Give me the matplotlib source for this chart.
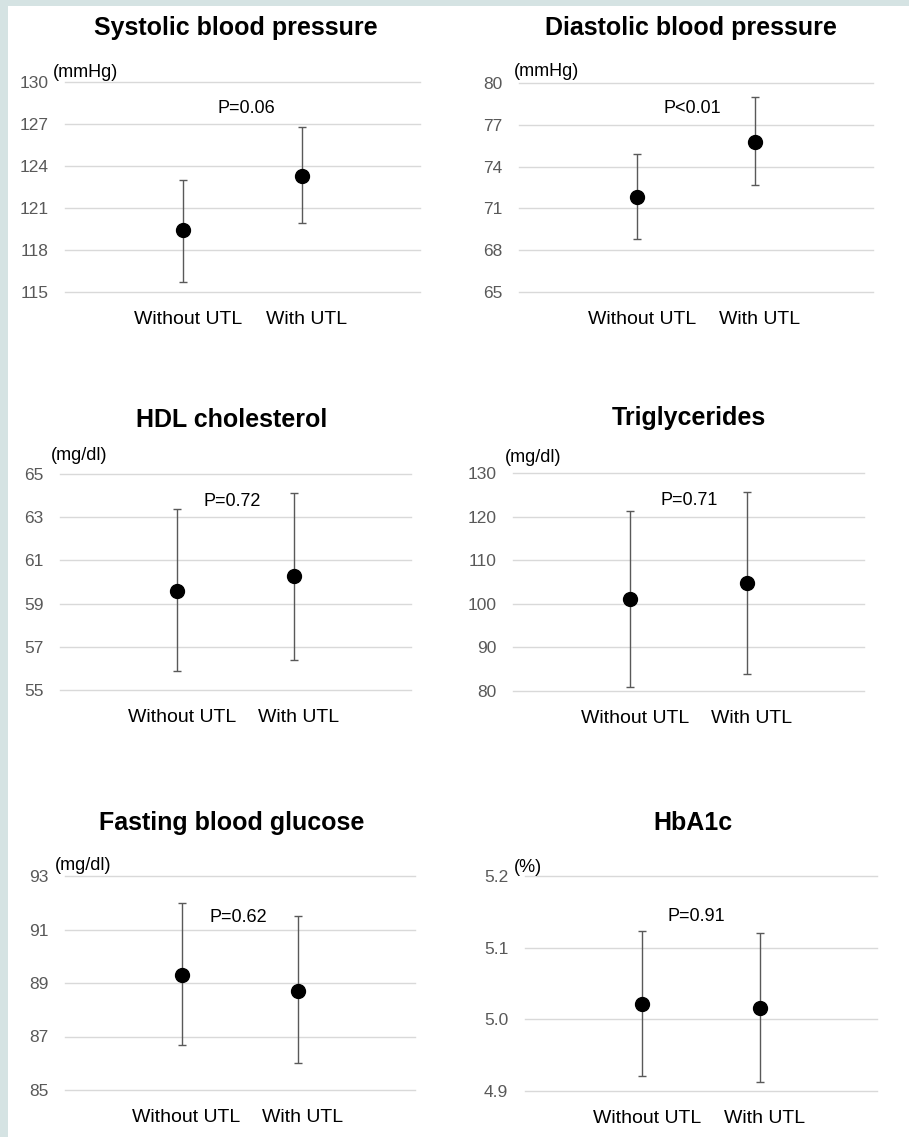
import matplotlib.pyplot as plt
from matplotlib.patches import Rectangle
from matplotlib.ticker import FormatStrFormatter
import numpy as np

plt.rcParams['font.family'] = ['Liberation Sans', 'DejaVu Sans']

groups = ["Without UTL", "With UTL"]

titles = ["Systolic blood pressure", "Diastolic blood pressure",
          "HDL cholesterol", "Triglycerides",
          "Fasting blood glucose", "HbA1c"]
units = ["(mmHg)", "(mmHg)", "(mg/dl)", "(mg/dl)", "(mg/dl)", "(%)"]
p_values = ["P=0.06", "P<0.01", "P=0.72", "P=0.71", "P=0.62", "P=0.91"]

# mean, lower and upper limit of error bar, per group
sbp_mean = [119.4, 123.3]
sbp_low = [115.7, 119.9]
sbp_high = [123.0, 126.8]

dbp_mean = [71.8, 75.8]
dbp_low = [68.8, 72.7]
dbp_high = [74.9, 79.0]

hdl_mean = [59.6, 60.3]
hdl_low = [55.9, 56.4]
hdl_high = [63.4, 64.1]

tg_mean = [101.0, 104.7]
tg_low = [81.0, 83.8]
tg_high = [121.3, 125.6]

fbg_mean = [89.3, 88.7]
fbg_low = [86.7, 86.0]
fbg_high = [92.0, 91.5]

hba1c_mean = [5.022, 5.016]
hba1c_low = [4.921, 4.912]
hba1c_high = [5.123, 5.121]

y_ticks = [np.arange(115, 131, 3), np.arange(65, 81, 3),
           np.arange(55, 66, 2), np.arange(80, 131, 10),
           np.arange(85, 94, 2), [4.9, 5.0, 5.1, 5.2]]

series = [(sbp_mean, sbp_low, sbp_high), (dbp_mean, dbp_low, dbp_high),
          (hdl_mean, hdl_low, hdl_high), (tg_mean, tg_low, tg_high),
          (fbg_mean, fbg_low, fbg_high), (hba1c_mean, hba1c_low, hba1c_high)]

# layout in pixels: axes box (x0, y0, x1, y1), title centre, unit offset, p text pos
W, H = 909, 1137
boxes = [(65, 82, 420, 292), (519, 83, 873, 292),
         (60, 474, 411, 690), (513, 473, 864, 691),
         (65, 876, 415, 1090), (525, 876, 877, 1091)]
title_pos = [(236, 28), (691, 28), (232, 420), (689, 418), (232, 823), (693, 823)]
unit_off = [(-12, 10), (-5, 11), (-9, 18), (-8, 15), (-10, 10), (-11, 9)]
p_pos = [(0.51, 0.876), (0.489, 0.88), (0.49, 0.872),
         (0.501, 0.872), (0.494, 0.805), (0.486, 0.81)]

fig = plt.figure(figsize=(W / 100, H / 100), dpi=100)
fig.patch.set_facecolor("white")
border = "#d5e3e3"
fig.patches.append(Rectangle((0, 0), 8 / W, 1, transform=fig.transFigure,
                             facecolor=border, edgecolor="none"))
fig.patches.append(Rectangle((0, 1 - 6 / H), 1, 6 / H, transform=fig.transFigure,
                             facecolor=border, edgecolor="none"))

x = np.arange(len(groups))
for i in range(6):
    x0, y0, x1, y1 = boxes[i]
    ax = fig.add_axes([x0 / W, 1 - y1 / H, (x1 - x0) / W, (y1 - y0) / H])
    ax.set_facecolor("none")
    mean, low, high = series[i]
    mean = np.array(mean)
    err = [mean - np.array(low), np.array(high) - mean]
    ax.errorbar(x, mean, yerr=err, fmt="o", color="black", markersize=10,
                ecolor="#595959", elinewidth=1, capsize=3, capthick=1, zorder=3)

    ticks = y_ticks[i]
    ax.set_ylim(ticks[0], ticks[-1])
    ax.set_yticks(ticks)
    if i == 5:
        ax.yaxis.set_major_formatter(FormatStrFormatter("%.1f"))
    ax.set_xlim(-1, 2)
    # labels sit a little right of the markers, as in the original
    ax.set_xticks(x + 0.04)
    ax.set_xticklabels(groups, fontsize=14, color="black")
    ax.tick_params(axis="x", length=0, pad=14)
    ax.tick_params(axis="y", length=0, pad=12, labelsize=12.5, labelcolor="#595959")
    ax.grid(axis="y", color="#d9d9d9", linewidth=1)
    for gl in ax.get_ygridlines():
        gl.set_clip_on(False)
    ax.set_axisbelow(True)
    for s in ax.spines.values():
        s.set_visible(False)

    ax.annotate(units[i], xy=(0, 1), xycoords="axes fraction",
                xytext=(unit_off[i][0] * 0.72, unit_off[i][1] * 0.72),
                textcoords="offset points", ha="left", va="center", fontsize=13)
    ax.text(p_pos[i][0], p_pos[i][1], p_values[i], transform=ax.transAxes,
            ha="center", va="center", fontsize=13)

    tx, ty = title_pos[i]
    fig.text(tx / W, 1 - ty / H, titles[i], ha="center", va="center",
             fontsize=18, fontweight="bold")

fig.savefig("out.png", dpi=100)
